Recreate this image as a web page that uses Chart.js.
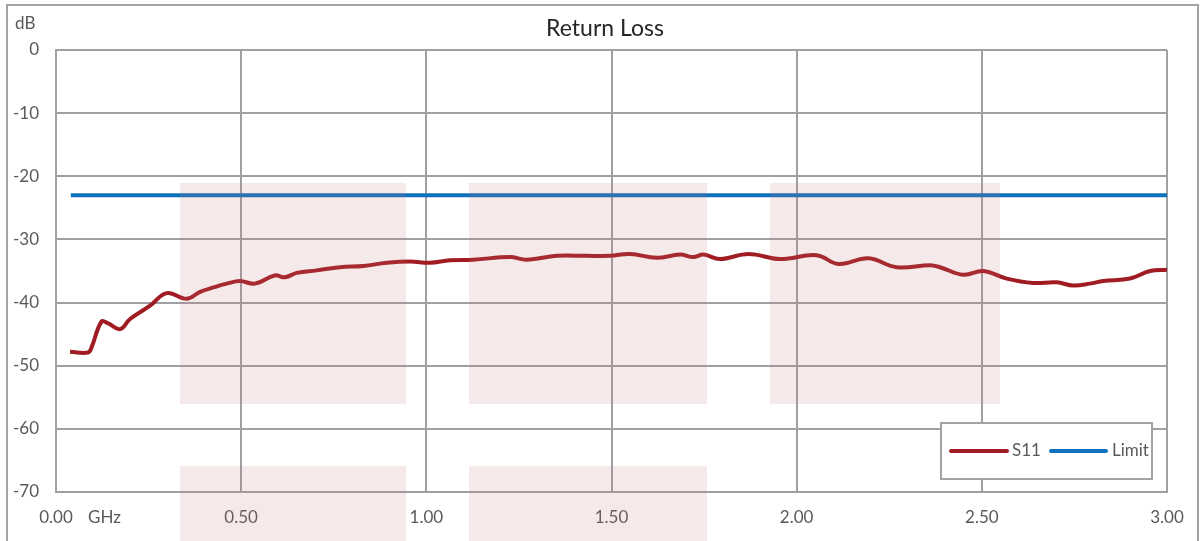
<!DOCTYPE html>
<html>
<head>
<meta charset="utf-8">
<script src="https://cdn.jsdelivr.net/npm/chart.js@4.4.1/dist/chart.umd.min.js"></script>
<style>
html,body{margin:0;padding:0;background:#fff;}
#wrap{position:relative;width:1203px;height:541px;}
</style>
</head>
<body>
<div id="wrap"><canvas id="c" width="1203" height="541"></canvas></div>
<script>
const chartTitle = "Return Loss";
const yUnit = "dB";
const xUnit = "GHz";
const s11Freq = [0.038,0.087,0.096,0.123,0.141,0.173,0.2,0.254,0.299,0.353,0.389,0.425,0.461,0.497,0.537,0.591,0.618,0.65,0.704,0.767,0.83,0.893,0.956,1.01,1.064,1.127,1.226,1.271,1.352,1.433,1.496,1.55,1.622,1.685,1.721,1.748,1.793,1.87,1.955,2.054,2.113,2.194,2.27,2.36,2.387,2.45,2.504,2.567,2.639,2.702,2.747,2.792,2.828,2.9,2.954,3.0];
const s11Values = [-47.8,-47.9,-47.1,-43.0,-43.3,-44.2,-42.6,-40.5,-38.5,-39.4,-38.3,-37.6,-37.0,-36.6,-37.0,-35.7,-36.0,-35.3,-34.9,-34.4,-34.2,-33.7,-33.5,-33.7,-33.3,-33.2,-32.8,-33.2,-32.6,-32.6,-32.6,-32.3,-32.9,-32.4,-32.8,-32.4,-33.1,-32.3,-33.1,-32.5,-33.9,-33.0,-34.4,-34.1,-34.4,-35.6,-35.0,-36.2,-36.9,-36.8,-37.3,-37.0,-36.6,-36.2,-35.0,-34.8];
const limitFreq = [0.04, 3.0];
const limitValues = [-23.0, -23.0];
const seriesNames = ["S11", "Limit"];

const FONT = "Lato, 'Open Sans', sans-serif";
const gridColor = "#a09fa3";

const framePlugin = {
  id: 'frame',
  beforeDraw(chart) {
    const ctx = chart.ctx;
    ctx.save();
    ctx.fillStyle = '#fff';
    ctx.fillRect(0, 0, chart.width, chart.height);
    ctx.strokeStyle = '#a3a3a6';
    ctx.lineWidth = 2;
    ctx.beginPath();
    ctx.moveTo(7, 545);
    ctx.lineTo(7, 5);
    ctx.lineTo(1198, 5);
    ctx.lineTo(1198, 545);
    ctx.stroke();
    ctx.restore();
  },
  afterDatasetsDraw(chart) {
    const ctx = chart.ctx;
    ctx.save();
    // title
    ctx.fillStyle = '#262626';
    ctx.font = "23px " + FONT;
    ctx.textAlign = 'center';
    ctx.textBaseline = 'middle';
    ctx.fillText(chartTitle, 605, 29);
    // unit labels
    ctx.fillStyle = '#595959';
    ctx.font = "17px " + FONT;
    ctx.textAlign = 'left';
    ctx.fillText(yUnit, 15, 24);
    ctx.fillText(xUnit, 88, 518);
    // legend
    const lx = 941, ly = 423, lw = 211, lh = 56;
    ctx.fillStyle = '#fff';
    ctx.fillRect(lx, ly, lw, lh);
    ctx.strokeStyle = '#a3a3a6';
    ctx.lineWidth = 2;
    ctx.strokeRect(lx, ly, lw, lh);
    const items = [{x0: 951, x1: 1007, tx: 1012}, {x0: 1051, x1: 1106, tx: 1112}];
    chart.data.datasets.forEach((ds, i) => {
      const it = items[i];
      ctx.strokeStyle = ds.borderColor;
      ctx.lineWidth = 4;
      ctx.lineCap = 'round';
      ctx.beginPath();
      ctx.moveTo(it.x0, 451);
      ctx.lineTo(it.x1, 451);
      ctx.stroke();
      ctx.fillStyle = '#595959';
      ctx.font = "17px " + FONT;
      ctx.textAlign = 'left';
      ctx.textBaseline = 'middle';
      ctx.fillText(ds.label, it.tx, 451);
    });
    ctx.restore();
  },
  afterDraw(chart) {
    // translucent pink watermark blocks over the picture
    const ctx = chart.ctx;
    ctx.save();
    ctx.fillStyle = 'rgba(200,120,125,0.16)';
    const cols = [[180, 406], [469, 707], [770, 1000]];
    cols.forEach(c => ctx.fillRect(c[0], 183, c[1] - c[0], 221));
    [[180, 406], [469, 707]].forEach(c => ctx.fillRect(c[0], 466, c[1] - c[0], 80));
    ctx.restore();
  }
};

new Chart(document.getElementById('c'), {
  type: 'line',
  data: {
    datasets: [
      {
        label: seriesNames[0],
        data: s11Freq.map((f, i) => ({x: f, y: s11Values[i]})),
        borderColor: '#a01c22',
        borderWidth: 4,
        pointRadius: 0,
        tension: 0.4,
        fill: false
      },
      {
        label: seriesNames[1],
        data: limitFreq.map((f, i) => ({x: f, y: limitValues[i]})),
        borderColor: '#0d72bd',
        borderWidth: 4,
        pointRadius: 0,
        tension: 0,
        fill: false
      }
    ]
  },
  options: {
    responsive: false,
    animation: false,
    events: [],
    layout: {padding: {left: 0, top: 50, right: 36, bottom: 0}},
    plugins: {legend: {display: false}, title: {display: false}, tooltip: {enabled: false}},
    scales: {
      x: {
        type: 'linear',
        min: 0, max: 3,
        afterFit(s) { s.height = 49; },
        ticks: {
          stepSize: 0.5,
          color: '#595959',
          font: {family: FONT, size: 17},
          padding: 15,
          maxRotation: 0,
          callback: v => Number(v).toFixed(2)
        },
        grid: {color: gridColor, lineWidth: 2, drawTicks: false},
        border: {color: gridColor, width: 2}
      },
      y: {
        min: -70, max: 0,
        afterFit(s) { s.width = 56; },
        ticks: {
          stepSize: 10,
          color: '#595959',
          font: {family: FONT, size: 17},
          padding: 17
        },
        grid: {color: gridColor, lineWidth: 2, drawTicks: false},
        border: {color: gridColor, width: 2}
      }
    }
  },
  plugins: [framePlugin]
});
</script>
</body>
</html>
